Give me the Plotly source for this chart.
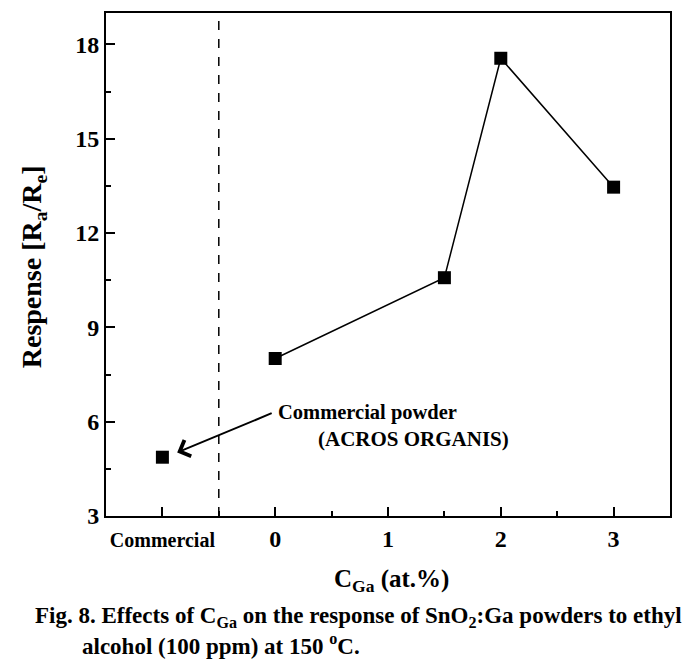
import plotly.graph_objects as go

# Data
x_values = [-1, 0, 1.5, 2, 3]
y_values = [4.87, 8.01, 10.58, 17.56, 13.46]
x_tickvals = [-1, 0, 1, 2, 3]
x_ticktext = ["<span style='font-size:20px'>Commercial</span>", "0", "1", "2", "3"]
y_tickvals = [3, 6, 9, 12, 15, 18]
separator_x = -0.5

FONT = "Liberation Serif"

fig = go.Figure()

# Commercial point (separate, not connected)
fig.add_trace(go.Scatter(
    x=x_values[:1], y=y_values[:1], mode="markers",
    marker=dict(symbol="square", size=13, color="black"),
    showlegend=False, hoverinfo="skip"))
# Ga-doped series
fig.add_trace(go.Scatter(
    x=x_values[1:], y=y_values[1:], mode="lines+markers",
    line=dict(color="black", width=1.5),
    marker=dict(symbol="square", size=13, color="black"),
    showlegend=False, hoverinfo="skip"))

fig.add_shape(type="line", xref="x", yref="paper", x0=separator_x, x1=separator_x,
              y0=0, y1=1, line=dict(color="black", width=1.5, dash="dash"))

axis_common = dict(
    showline=True, linecolor="black", linewidth=2, mirror=True,
    ticks="inside", ticklen=9, tickwidth=2, tickcolor="black",
    showgrid=False, zeroline=False,
    tickfont=dict(family=FONT, size=24, color="black", weight="bold"),
)

fig.update_xaxes(range=[-1.5, 3.5], tickmode="array", tickvals=x_tickvals,
                 ticktext=x_ticktext, ticklabelstandoff=0,
                 minor=dict(tickmode="linear", tick0=-0.5, dtick=0.5, ticks="inside",
                            ticklen=5, tickwidth=2, tickcolor="black"),
                 **axis_common)
fig.update_yaxes(range=[3, 19], tickmode="array", tickvals=y_tickvals,
                 ticklabelstandoff=0,
                 minor=dict(tickmode="linear", tick0=3, dtick=1.5, ticks="inside",
                            ticklen=5, tickwidth=2, tickcolor="black"),
                 **axis_common)

def tfont(size):
    return dict(family=FONT, size=size, color="black", weight="bold")

annotations = [
    # arrow
    dict(x=-0.869, y=5.02, ax=-0.018, ay=6.29, xref="x", yref="y", axref="x", ayref="y",
         text="", showarrow=True, arrowhead=4, arrowsize=1.7, arrowwidth=2, arrowcolor="black"),
    dict(x=0.01, y=6.29, xref="x", yref="y", text="Commercial powder", showarrow=False,
         xanchor="left", yanchor="middle", font=tfont(20.5)),
    dict(x=0.36, y=5.46, xref="x", yref="y", text="(ACROS ORGANIS)", showarrow=False,
         xanchor="left", yanchor="middle", font=tfont(21)),
    # axis titles
    dict(x=0.507, y=-0.129, xref="paper", yref="paper",
         text="C<sub>Ga</sub> (at.%)", showarrow=False,
         xanchor="center", yanchor="middle", font=tfont(25)),
    dict(x=-0.129, y=0.495, xref="paper", yref="paper", textangle=-90,
         text="Respense [R<sub>a</sub>/R<sub>e</sub>]", showarrow=False,
         xanchor="center", yanchor="middle", font=tfont(28)),
    # caption
    dict(x=-0.129, y=-0.2007, xref="paper", yref="paper",
         text="Fig. 8. Effects of C<sub>Ga</sub> on the response of SnO<sub>2</sub>:Ga powders to ethyl",
         showarrow=False, xanchor="left", yanchor="middle", font=tfont(23)),
    dict(x=-0.046, y=-0.256, xref="paper", yref="paper",
         text="alcohol (100 ppm) at 150 <sup>o</sup>C.",
         showarrow=False, xanchor="left", yanchor="middle", font=tfont(23)),
]
fig.update_layout(
    width=694, height=668,
    margin=dict(l=106, r=24, t=11, b=152),
    plot_bgcolor="white", paper_bgcolor="white",
    annotations=annotations,
    font=dict(family=FONT, color="black"),
)

fig.write_html("out.html", config={"displayModeBar": False},
               post_script="document.body.style.margin='0';")
